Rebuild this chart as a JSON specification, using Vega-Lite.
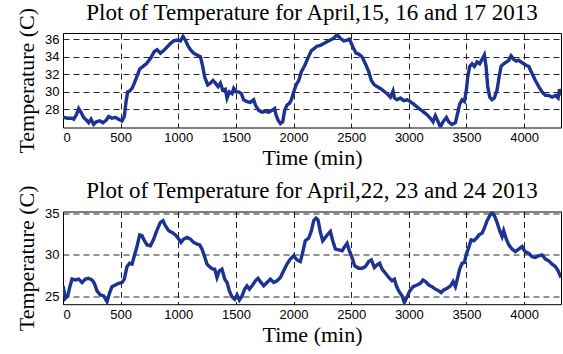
{
"$schema": "https://vega.github.io/schema/vega-lite/v6.json",
"padding": {"left": 15, "top": 1, "right": 0, "bottom": 0},
"bounds": "flush",
"spacing": 83.5,
"background": "white",
"datasets": {
"top": [{"t":0,"v":27.1},{"t":6,"v":27.1},{"t":40,"v":27.0},{"t":78,"v":27.0},{"t":93,"v":26.9},{"t":116,"v":27.4},{"t":136,"v":28.1},{"t":156,"v":27.7},{"t":179,"v":27.1},{"t":202,"v":26.8},{"t":223,"v":26.5},{"t":243,"v":26.9},{"t":266,"v":26.3},{"t":289,"v":26.6},{"t":318,"v":26.7},{"t":347,"v":26.5},{"t":376,"v":26.8},{"t":396,"v":27.2},{"t":425,"v":27.0},{"t":454,"v":27.1},{"t":483,"v":26.9},{"t":512,"v":26.7},{"t":532,"v":27.2},{"t":547,"v":28.9},{"t":561,"v":30.0},{"t":578,"v":30.1},{"t":599,"v":30.4},{"t":619,"v":31.0},{"t":642,"v":31.8},{"t":665,"v":32.6},{"t":694,"v":32.9},{"t":723,"v":33.2},{"t":758,"v":33.8},{"t":792,"v":34.6},{"t":816,"v":34.8},{"t":845,"v":34.4},{"t":873,"v":34.7},{"t":902,"v":35.1},{"t":931,"v":35.5},{"t":960,"v":35.8},{"t":989,"v":35.9},{"t":1018,"v":35.8},{"t":1041,"v":36.3},{"t":1061,"v":35.9},{"t":1082,"v":35.3},{"t":1105,"v":34.8},{"t":1134,"v":34.4},{"t":1163,"v":34.2},{"t":1192,"v":34.0},{"t":1212,"v":32.9},{"t":1229,"v":31.7},{"t":1255,"v":30.8},{"t":1278,"v":31.0},{"t":1301,"v":31.3},{"t":1322,"v":31.0},{"t":1345,"v":30.6},{"t":1365,"v":31.0},{"t":1385,"v":30.2},{"t":1408,"v":30.3},{"t":1423,"v":29.3},{"t":1443,"v":30.0},{"t":1466,"v":29.8},{"t":1481,"v":30.4},{"t":1501,"v":30.0},{"t":1524,"v":30.0},{"t":1547,"v":29.8},{"t":1567,"v":29.1},{"t":1596,"v":28.9},{"t":1625,"v":28.8},{"t":1654,"v":29.1},{"t":1669,"v":28.5},{"t":1698,"v":27.9},{"t":1727,"v":27.7},{"t":1755,"v":27.8},{"t":1784,"v":27.7},{"t":1813,"v":27.9},{"t":1836,"v":28.1},{"t":1848,"v":27.4},{"t":1865,"v":26.8},{"t":1886,"v":26.4},{"t":1906,"v":26.6},{"t":1923,"v":27.9},{"t":1943,"v":28.5},{"t":1964,"v":28.7},{"t":1981,"v":29.1},{"t":2001,"v":30.0},{"t":2022,"v":30.8},{"t":2045,"v":31.3},{"t":2068,"v":32.3},{"t":2097,"v":33.0},{"t":2126,"v":33.9},{"t":2155,"v":34.7},{"t":2175,"v":34.9},{"t":2204,"v":35.2},{"t":2233,"v":35.3},{"t":2262,"v":35.5},{"t":2290,"v":35.7},{"t":2319,"v":35.9},{"t":2348,"v":36.1},{"t":2377,"v":36.5},{"t":2406,"v":36.1},{"t":2435,"v":35.8},{"t":2464,"v":35.9},{"t":2484,"v":36.0},{"t":2502,"v":35.5},{"t":2522,"v":34.9},{"t":2542,"v":34.4},{"t":2565,"v":34.3},{"t":2594,"v":34.0},{"t":2623,"v":33.2},{"t":2652,"v":32.3},{"t":2675,"v":31.3},{"t":2701,"v":30.8},{"t":2724,"v":30.6},{"t":2753,"v":30.4},{"t":2782,"v":30.1},{"t":2811,"v":29.8},{"t":2840,"v":29.4},{"t":2863,"v":30.1},{"t":2875,"v":29.3},{"t":2898,"v":29.1},{"t":2927,"v":29.3},{"t":2956,"v":29.0},{"t":2985,"v":29.1},{"t":3013,"v":28.9},{"t":3042,"v":28.6},{"t":3071,"v":28.3},{"t":3100,"v":28.0},{"t":3129,"v":27.7},{"t":3158,"v":27.4},{"t":3187,"v":27.0},{"t":3210,"v":26.6},{"t":3230,"v":27.3},{"t":3251,"v":26.7},{"t":3274,"v":26.0},{"t":3297,"v":26.6},{"t":3326,"v":27.1},{"t":3346,"v":26.6},{"t":3375,"v":26.3},{"t":3404,"v":26.5},{"t":3424,"v":27.6},{"t":3441,"v":28.6},{"t":3462,"v":29.1},{"t":3482,"v":28.9},{"t":3499,"v":30.2},{"t":3511,"v":31.7},{"t":3528,"v":32.9},{"t":3548,"v":33.2},{"t":3569,"v":32.9},{"t":3592,"v":33.4},{"t":3615,"v":33.2},{"t":3635,"v":33.7},{"t":3655,"v":34.2},{"t":3670,"v":32.9},{"t":3684,"v":30.6},{"t":3702,"v":29.4},{"t":3722,"v":29.1},{"t":3742,"v":29.3},{"t":3765,"v":30.2},{"t":3783,"v":31.7},{"t":3800,"v":32.9},{"t":3823,"v":33.2},{"t":3846,"v":33.4},{"t":3867,"v":33.6},{"t":3887,"v":34.1},{"t":3910,"v":33.7},{"t":3933,"v":33.5},{"t":3953,"v":33.6},{"t":3974,"v":33.4},{"t":3997,"v":33.2},{"t":4020,"v":33.0},{"t":4040,"v":32.9},{"t":4069,"v":32.1},{"t":4098,"v":31.3},{"t":4127,"v":30.6},{"t":4156,"v":30.0},{"t":4185,"v":29.6},{"t":4214,"v":29.6},{"t":4243,"v":29.4},{"t":4272,"v":29.6},{"t":4295,"v":29.3},{"t":4307,"v":30.3},{"t":4320,"v":29.6}],
"bottom": [{"t":0,"v":25.8},{"t":6,"v":25.9},{"t":20,"v":24.8},{"t":41,"v":25.1},{"t":58,"v":26.1},{"t":78,"v":27.1},{"t":107,"v":27.0},{"t":136,"v":27.1},{"t":165,"v":26.7},{"t":194,"v":27.1},{"t":223,"v":27.2},{"t":252,"v":27.0},{"t":272,"v":26.6},{"t":295,"v":25.7},{"t":324,"v":25.2},{"t":353,"v":25.1},{"t":382,"v":24.4},{"t":405,"v":25.5},{"t":425,"v":26.2},{"t":454,"v":26.4},{"t":483,"v":26.6},{"t":512,"v":26.7},{"t":532,"v":27.1},{"t":555,"v":28.6},{"t":578,"v":29.0},{"t":599,"v":28.9},{"t":619,"v":29.9},{"t":642,"v":31.0},{"t":665,"v":32.4},{"t":685,"v":32.3},{"t":706,"v":31.7},{"t":729,"v":31.2},{"t":758,"v":31.1},{"t":787,"v":31.9},{"t":816,"v":33.0},{"t":845,"v":33.9},{"t":868,"v":34.1},{"t":888,"v":33.5},{"t":917,"v":32.9},{"t":946,"v":32.7},{"t":975,"v":32.4},{"t":1004,"v":31.9},{"t":1024,"v":31.5},{"t":1047,"v":31.9},{"t":1076,"v":32.1},{"t":1105,"v":31.9},{"t":1134,"v":31.5},{"t":1163,"v":31.3},{"t":1186,"v":31.2},{"t":1206,"v":30.7},{"t":1226,"v":29.9},{"t":1249,"v":28.9},{"t":1278,"v":28.5},{"t":1300,"v":28.3},{"t":1316,"v":28.3},{"t":1336,"v":27.3},{"t":1356,"v":28.1},{"t":1379,"v":28.3},{"t":1403,"v":27.1},{"t":1423,"v":26.7},{"t":1443,"v":25.7},{"t":1466,"v":25.0},{"t":1489,"v":24.7},{"t":1510,"v":25.2},{"t":1530,"v":24.6},{"t":1553,"v":25.1},{"t":1576,"v":25.9},{"t":1596,"v":26.3},{"t":1617,"v":25.9},{"t":1640,"v":26.3},{"t":1669,"v":26.9},{"t":1692,"v":27.2},{"t":1712,"v":26.8},{"t":1741,"v":26.3},{"t":1770,"v":26.7},{"t":1799,"v":27.1},{"t":1828,"v":26.7},{"t":1857,"v":26.9},{"t":1886,"v":27.3},{"t":1914,"v":28.1},{"t":1943,"v":28.9},{"t":1972,"v":29.5},{"t":2001,"v":29.9},{"t":2030,"v":29.4},{"t":2059,"v":29.2},{"t":2079,"v":30.3},{"t":2102,"v":31.7},{"t":2131,"v":32.0},{"t":2155,"v":32.9},{"t":2175,"v":34.1},{"t":2195,"v":34.4},{"t":2212,"v":34.2},{"t":2233,"v":32.7},{"t":2253,"v":31.7},{"t":2276,"v":32.1},{"t":2299,"v":32.5},{"t":2319,"v":32.8},{"t":2340,"v":31.7},{"t":2363,"v":30.7},{"t":2392,"v":30.6},{"t":2421,"v":30.5},{"t":2444,"v":31.0},{"t":2464,"v":31.4},{"t":2484,"v":30.5},{"t":2507,"v":29.7},{"t":2530,"v":28.7},{"t":2565,"v":28.4},{"t":2594,"v":28.4},{"t":2623,"v":28.6},{"t":2652,"v":29.2},{"t":2675,"v":29.4},{"t":2701,"v":28.5},{"t":2724,"v":28.8},{"t":2747,"v":29.0},{"t":2768,"v":28.3},{"t":2797,"v":27.8},{"t":2826,"v":27.3},{"t":2854,"v":26.9},{"t":2875,"v":27.1},{"t":2892,"v":26.3},{"t":2912,"v":25.7},{"t":2941,"v":25.1},{"t":2961,"v":24.3},{"t":2985,"v":25.0},{"t":3008,"v":25.7},{"t":3037,"v":26.2},{"t":3071,"v":26.4},{"t":3100,"v":26.6},{"t":3123,"v":27.0},{"t":3144,"v":26.8},{"t":3173,"v":26.4},{"t":3201,"v":26.2},{"t":3230,"v":25.9},{"t":3259,"v":25.7},{"t":3280,"v":25.5},{"t":3303,"v":25.8},{"t":3332,"v":26.0},{"t":3361,"v":26.3},{"t":3384,"v":26.8},{"t":3404,"v":26.2},{"t":3424,"v":27.3},{"t":3441,"v":28.3},{"t":3462,"v":29.0},{"t":3482,"v":29.1},{"t":3499,"v":30.1},{"t":3520,"v":30.9},{"t":3540,"v":31.8},{"t":3563,"v":31.7},{"t":3586,"v":32.0},{"t":3609,"v":32.4},{"t":3635,"v":32.6},{"t":3655,"v":33.2},{"t":3679,"v":34.1},{"t":3702,"v":34.7},{"t":3722,"v":35.1},{"t":3742,"v":34.7},{"t":3765,"v":33.9},{"t":3788,"v":32.9},{"t":3809,"v":32.2},{"t":3823,"v":32.9},{"t":3846,"v":31.9},{"t":3867,"v":31.2},{"t":3896,"v":30.7},{"t":3924,"v":30.4},{"t":3953,"v":30.7},{"t":3982,"v":31.0},{"t":4003,"v":30.5},{"t":4020,"v":30.3},{"t":4040,"v":30.2},{"t":4069,"v":29.8},{"t":4098,"v":29.7},{"t":4127,"v":29.9},{"t":4156,"v":30.0},{"t":4185,"v":29.5},{"t":4214,"v":29.3},{"t":4243,"v":28.9},{"t":4272,"v":28.6},{"t":4295,"v":28.1},{"t":4320,"v":27.3}]
},
"config": {
  "view": {"stroke": "#000", "strokeWidth": 1},
  "axis": {
    "labelFont": "Liberation Sans", "labelFontSize": 13, "labelColor": "#000",
    "titleFont": "Liberation Serif", "titleFontSize": 22, "titleFontWeight": "normal", "titleColor": "#000",
    "grid": true, "gridDash": [6, 4], "gridColor": "#000", "gridOpacity": 0.85, "gridWidth": 1,
    "ticks": false, "domain": false, "labelPadding": 4, "format": "d"
  },
  "title": {"font": "Liberation Serif", "fontSize": 23, "fontWeight": "normal", "color": "#000", "anchor": "middle"}
},
"vconcat": [
  {
    "width": 498, "height": 94.5,
    "title": {"text": "Plot of Temperature for April,15, 16 and 17 2013", "offset": -18},
    "data": {"name": "top"},
    "mark": {"type": "line", "color": "#1c3391", "strokeWidth": 3.4, "clip": true},
    "encoding": {
      "x": {"field": "t", "type": "quantitative", "scale": {"domain": [0, 4320], "nice": false, "zero": false},
            "axis": {"title": "Time (min)", "values": [0,500,1000,1500,2000,2500,3000,3500,4000], "titlePadding": 3, "labelPadding": 4}},
      "y": {"field": "v", "type": "quantitative", "scale": {"domain": [25.95, 36.7], "nice": false, "zero": false},
            "axis": {"title": "Temperature (C)", "values": [28,30,32,34,36], "titlePadding": 6}}
    }
  },
  {
    "width": 498, "height": 92.7,
    "title": {"text": "Plot of Temperature for April,22, 23 and 24 2013", "offset": -18},
    "data": {"name": "bottom"},
    "mark": {"type": "line", "color": "#1c3391", "strokeWidth": 3.4, "clip": true},
    "encoding": {
      "x": {"field": "t", "type": "quantitative", "scale": {"domain": [0, 4320], "nice": false, "zero": false},
            "axis": {"title": "Time (min)", "values": [0,500,1000,1500,2000,2500,3000,3500,4000], "titlePadding": 3, "labelPadding": 4}},
      "y": {"field": "v", "type": "quantitative", "scale": {"domain": [24.1, 35.2], "nice": false, "zero": false},
            "axis": {"title": "Temperature (C)", "values": [25,30,35], "titlePadding": 6}}
    }
  }
]
}
